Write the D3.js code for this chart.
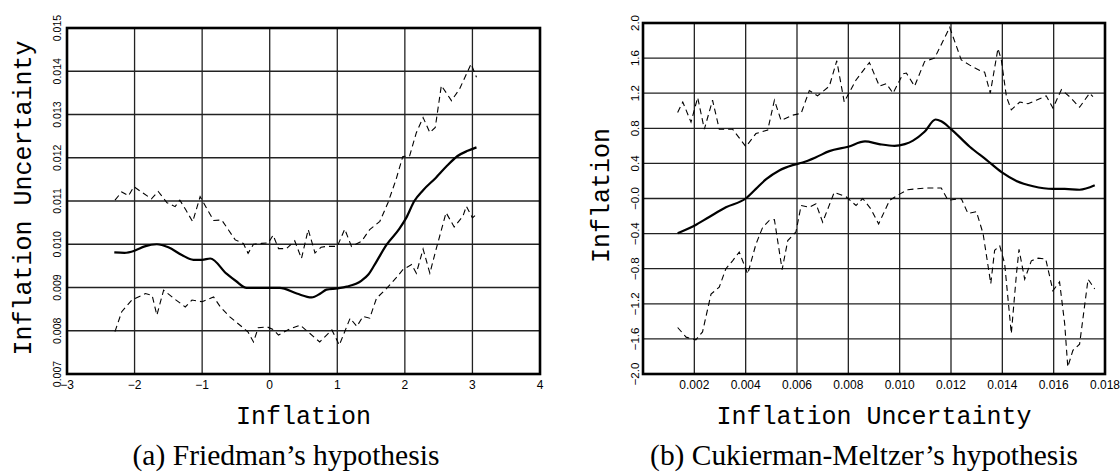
<!DOCTYPE html>
<meta charset="utf-8">
<script src="https://d3js.org/d3.v7.min.js"></script>
<style>
  body { margin: 0; background: #fff; }
  .tick-lbl { font-family: "Liberation Sans", Arial, sans-serif; font-size: 12px; fill: #000; }
  .ax-title { font-family: "Liberation Mono", "Courier New", monospace; font-size: 25px; fill: #000; }
  .caption { font-family: "Liberation Serif", "Times New Roman", serif; fill: #000; }
</style>
<body>
<div id="visual"></div>
<script>

// ---- data ----
// (a) Friedman: x = inflation, y = inflation uncertainty
var friedmanMean = [[-2.30,0.00981],[-2.15,0.00980],[-2.0,0.00985],[-1.85,0.00995],[-1.67,0.01000],[-1.5,0.00993],
  [-1.3,0.00975],[-1.13,0.00964],[-1.0,0.00964],[-0.88,0.00967],[-0.64,0.00932],[-0.5,0.00915],[-0.34,0.00899],
  [-0.1,0.00899],[0.15,0.00899],[0.40,0.00886],[0.62,0.00877],[0.75,0.00886],[0.84,0.00895],[1.0,0.00898],
  [1.14,0.00902],[1.36,0.00916],[1.46,0.0093],[1.58,0.0096],[1.73,0.00999],[1.92,0.01036],[2.02,0.01061],
  [2.14,0.0110],[2.27,0.01125],[2.46,0.01154],[2.61,0.01179],[2.78,0.01204],[2.93,0.01216],[3.06,0.01224]];

var friedmanUpper = [[-2.29,0.01102],[-2.19,0.01121],[-2.09,0.01112],[-2.01,0.01133],[-1.87,0.01118],[-1.75,0.01105],
  [-1.65,0.01122],[-1.52,0.01096],[-1.40,0.01087],[-1.33,0.01102],[-1.24,0.01079],[-1.14,0.01052],[-1.03,0.01110],
  [-0.93,0.01082],[-0.83,0.01055],[-0.71,0.01056],[-0.61,0.01033],[-0.51,0.01010],[-0.39,0.01002],[-0.32,0.00979],
  [-0.24,0.01000],[-0.12,0.01002],[-0.02,0.01003],[0.05,0.01021],[0.13,0.00990],[0.25,0.00990],[0.37,0.01008],
  [0.47,0.00967],[0.57,0.01034],[0.67,0.00980],[0.76,0.00993],[0.84,0.00995],[1.0,0.00995],[1.11,0.01035],
  [1.21,0.00995],[1.36,0.01007],[1.48,0.01034],[1.63,0.01053],[1.75,0.01096],[1.87,0.0115],[1.97,0.01203],
  [2.07,0.01204],[2.17,0.01258],[2.27,0.01293],[2.37,0.01258],[2.45,0.0127],[2.54,0.01367],[2.69,0.01332],
  [2.81,0.01359],[2.98,0.01417],[3.06,0.01386]];

var friedmanLower = [[-2.29,0.00798],[-2.19,0.00844],[-2.04,0.00871],[-1.84,0.00886],[-1.74,0.00882],[-1.67,0.00836],
  [-1.57,0.00894],[-1.42,0.00875],[-1.25,0.00855],[-1.15,0.00871],[-1.0,0.00867],[-0.83,0.00878],[-0.73,0.00855],
  [-0.59,0.00832],[-0.41,0.00809],[-0.32,0.00797],[-0.24,0.00774],[-0.17,0.00807],[-0.04,0.00809],[0.05,0.00803],
  [0.13,0.0079],[0.28,0.00803],[0.45,0.00813],[0.6,0.00793],[0.74,0.00774],[0.92,0.00802],[1.03,0.00767],
  [1.19,0.00829],[1.29,0.0081],[1.38,0.00833],[1.48,0.00829],[1.58,0.00875],[1.73,0.00898],[1.87,0.00922],
  [1.97,0.00941],[2.10,0.00953],[2.17,0.00933],[2.27,0.00989],[2.37,0.00933],[2.46,0.00987],[2.61,0.01073],
  [2.73,0.0104],[2.86,0.01065],[2.91,0.01088],[3.0,0.01061],[3.06,0.01069]];

var friedmanXTicks = [-3, -2, -1, 0, 1, 2, 3, 4];
var friedmanXLabels = ["\u22123", "\u22122", "\u22121", "0", "1", "2", "3", "4"];
var friedmanYTicks = [0.007, 0.008, 0.009, 0.010, 0.011, 0.012, 0.013, 0.014, 0.015];
var friedmanYLabels = ["0.007", "0.008", "0.009", "0.010", "0.011", "0.012", "0.013", "0.014", "0.015"];

// (b) Cukierman-Meltzer: x = inflation uncertainty, y = inflation
var cmMean = [[0.00135,-0.395],[0.002,-0.31],[0.00258,-0.21],[0.00323,-0.10],[0.004,0.0],[0.0044,0.11],[0.0048,0.22],
  [0.00531,0.32],[0.00583,0.38],[0.00622,0.41],[0.00674,0.47],[0.00726,0.54],[0.00799,0.59],[0.00865,0.65],
  [0.0092,0.62],[0.0098,0.60],[0.0102,0.62],[0.01052,0.66],[0.01097,0.76],[0.0114,0.90],[0.01162,0.88],
  [0.01197,0.80],[0.01273,0.59],[0.01338,0.44],[0.01397,0.30],[0.01455,0.20],[0.0152,0.14],[0.01597,0.11],
  [0.01643,0.11],[0.01701,0.10],[0.0176,0.15]];

var cmUpper = [[0.00135,0.98],[0.00155,1.10],[0.00187,0.87],[0.00213,1.15],[0.00239,0.79],[0.00271,1.12],[0.00297,0.79],
  [0.00349,0.79],[0.00401,0.59],[0.0044,0.74],[0.00486,0.78],[0.00512,1.12],[0.00538,0.89],[0.00583,0.95],
  [0.00616,0.97],[0.00648,1.23],[0.0068,1.17],[0.00726,1.28],[0.00755,1.57],[0.00784,1.10],[0.0083,1.35],
  [0.00882,1.55],[0.00921,1.28],[0.00948,1.31],[0.00974,1.20],[0.01013,1.42],[0.01026,1.43],[0.01058,1.28],
  [0.01097,1.56],[0.01136,1.60],[0.01195,1.95],[0.0124,1.58],[0.01273,1.52],[0.01312,1.46],[0.01331,1.44],
  [0.01353,1.20],[0.01383,1.71],[0.01396,1.58],[0.01416,1.16],[0.01435,1.01],[0.01468,1.10],[0.015,1.08],
  [0.01532,1.12],[0.01571,1.17],[0.01597,1.03],[0.0163,1.24],[0.01662,1.16],[0.01701,1.04],[0.0174,1.20],
  [0.01753,1.16]];

var cmLower = [[0.00135,-1.47],[0.00168,-1.58],[0.00206,-1.61],[0.00232,-1.52],[0.00265,-1.09],[0.00297,-1.01],
  [0.00323,-0.80],[0.00349,-0.71],[0.00375,-0.61],[0.00408,-0.86],[0.0044,-0.52],[0.00466,-0.33],[0.00492,-0.25],
  [0.00512,-0.24],[0.00542,-0.81],[0.00564,-0.48],[0.00596,-0.38],[0.00616,-0.08],[0.00648,-0.10],[0.00674,-0.06],
  [0.007,-0.27],[0.00745,0.07],[0.00791,0.02],[0.0083,-0.08],[0.00856,0.0],[0.00888,-0.12],[0.00918,-0.29],
  [0.00961,-0.02],[0.010,0.05],[0.01032,0.10],[0.01065,0.11],[0.01104,0.12],[0.01162,0.12],[0.01188,-0.02],
  [0.0124,0.0],[0.01266,-0.17],[0.01299,-0.15],[0.01325,-0.40],[0.01355,-0.97],[0.0137,-0.59],[0.0139,-0.54],
  [0.01409,-0.74],[0.01435,-1.54],[0.01455,-0.86],[0.01465,-0.58],[0.01487,-0.92],[0.01513,-0.71],[0.01539,-0.68],
  [0.01569,-0.69],[0.01597,-1.05],[0.01623,-0.95],[0.01643,-1.43],[0.01655,-1.92],[0.01675,-1.73],[0.01701,-1.66],
  [0.01734,-0.92],[0.0176,-1.03]];

var cmXTicks = [0.002, 0.004, 0.006, 0.008, 0.010, 0.012, 0.014, 0.016, 0.018];
var cmXLabels = ["0.002", "0.004", "0.006", "0.008", "0.010", "0.012", "0.014", "0.016", "0.018"];
var cmYTicks = [2.0, 1.6, 1.2, 0.8, 0.4, 0.0, -0.4, -0.8, -1.2, -1.6, -2.0];
var cmYLabels = ["2.0", "1.6", "1.2", "0.8", "0.4", "\u22120.0", "\u22120.4", "\u22120.8", "\u22121.2", "\u22121.6", "\u22122.0"];

// ---- svg ----
var svg = d3.select("#visual")
  .append("svg")
    .attr("width", 1120)
    .attr("height", 475);

function drawPanel(p) {
  var x = d3.scaleLinear().domain(p.xDomain).range([p.left, p.right]);
  var y = d3.scaleLinear().domain(p.yDomain).range([p.bottom, p.top]);
  var g = svg.append("g");

  // grid lines (inner ticks only)
  var xIn = p.xTicks.filter(function(d) { return d > p.xDomain[0] + 1e-9 && d < p.xDomain[1] - 1e-9; });
  var yIn = p.yTicks.filter(function(d) { return d > p.yDomain[0] + 1e-9 && d < p.yDomain[1] - 1e-9; });
  g.selectAll(".vgrid").data(xIn).enter().append("line")
    .attr("x1", function(d) { return x(d); }).attr("x2", function(d) { return x(d); })
    .attr("y1", p.top).attr("y2", p.bottom)
    .attr("stroke", "#222").attr("stroke-width", 1.3);
  g.selectAll(".hgrid").data(yIn).enter().append("line")
    .attr("y1", function(d) { return y(d); }).attr("y2", function(d) { return y(d); })
    .attr("x1", p.left).attr("x2", p.right)
    .attr("stroke", "#222").attr("stroke-width", 1.3);

  // x tick labels
  g.selectAll(".xl").data(p.xTicks).enter().append("text")
    .attr("class", "tick-lbl")
    .attr("x", function(d) { return x(d); })
    .attr("y", p.bottom + 15)
    .attr("text-anchor", "middle")
    .text(function(d, i) { return p.xLabels[i]; });

  // y tick labels, rotated
  g.selectAll(".yl").data(p.yTicks).enter().append("text")
    .attr("class", "tick-lbl")
    .style("font-size", p.yLblSize)
    .attr("transform", function(d) { return "translate(" + (p.left - p.yLblGap) + "," + y(d) + ") rotate(-90)"; })
    .attr("text-anchor", "middle")
    .text(function(d, i) { return p.yLabels[i]; });

  // the three lines
  var line = d3.line().x(function(d) { return x(d[0]); }).y(function(d) { return y(d[1]); });
  [p.upper, p.lower].forEach(function(s) {
    g.append("path").datum(s)
      .attr("fill", "none").attr("stroke", "#000")
      .attr("stroke-width", 1.1).attr("stroke-dasharray", "6,4")
      .attr("d", line);
  });
  g.append("path").datum(p.mean)
    .attr("fill", "none").attr("stroke", "#000").attr("stroke-width", 2.2)
    .attr("d", line.curve(d3.curveMonotoneX));

  // frame
  g.append("rect")
    .attr("x", p.left).attr("y", p.top)
    .attr("width", p.right - p.left).attr("height", p.bottom - p.top)
    .attr("fill", "none").attr("stroke", "#000").attr("stroke-width", 2.6);

  // axis titles
  g.append("text").attr("class", "ax-title")
    .attr("x", (p.left + p.right) / 2).attr("y", 424)
    .attr("text-anchor", "middle").text(p.xTitle);
  g.append("text").attr("class", "ax-title")
    .attr("transform", "translate(" + p.yTitleX + "," + ((p.top + p.bottom) / 2 - 3) + ") rotate(-90)")
    .attr("text-anchor", "middle").text(p.yTitle);

  // caption, sized to the width seen in the picture
  var cap = g.append("text").attr("class", "caption")
    .attr("x", p.capX).attr("y", 465)
    .attr("text-anchor", "middle")
    .style("font-size", "24px")
    .text(p.caption);
  var w = cap.node().getComputedTextLength();
  cap.style("font-size", (24 * p.capW / w) + "px");
}

drawPanel({
  left: 67, right: 540, top: 28, bottom: 374,
  xDomain: [-3, 4], yDomain: [0.007, 0.015],
  xTicks: friedmanXTicks, xLabels: friedmanXLabels,
  yTicks: friedmanYTicks, yLabels: friedmanYLabels,
  yLblGap: 6, yLblSize: "10.5px",
  mean: friedmanMean, upper: friedmanUpper, lower: friedmanLower,
  xTitle: "Inflation", yTitle: "Inflation Uncertainty", yTitleX: 31,
  caption: "(a) Friedman\u2019s hypothesis", capX: 286, capW: 307
});

drawPanel({
  left: 643, right: 1105, top: 23, bottom: 374,
  xDomain: [0, 0.018], yDomain: [-2, 2],
  xTicks: cmXTicks, xLabels: cmXLabels,
  yTicks: cmYTicks, yLabels: cmYLabels,
  yLblGap: 4, yLblSize: "11.5px",
  mean: cmMean, upper: cmUpper, lower: cmLower,
  xTitle: "Inflation Uncertainty", yTitle: "Inflation", yTitleX: 609,
  caption: "(b) Cukierman-Meltzer\u2019s hypothesis", capX: 864, capW: 428
});

</script>
</body>
</html>
